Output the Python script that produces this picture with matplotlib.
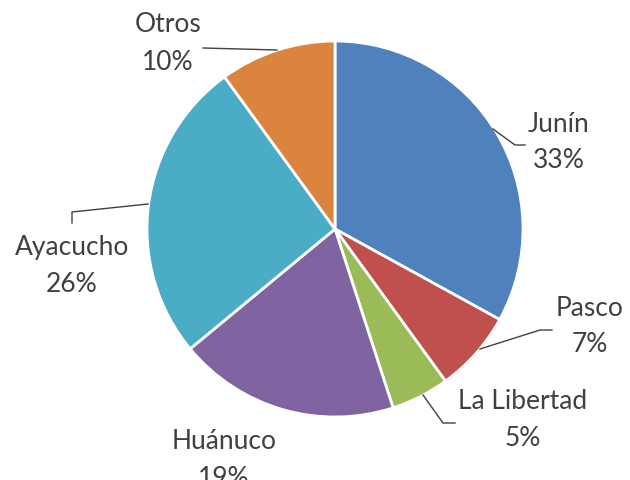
import matplotlib.pyplot as plt

regiones = ['Junín', 'Pasco', 'La Libertad', 'Huánuco', 'Ayacucho', 'Otros']
porcentajes = [33, 7, 5, 19, 26, 10]
colores = ['#4F81BD', '#C0504D', '#9BBB59', '#8064A2', '#4BACC6', '#DB843D']

# label positions: x centre, y of name line, y of percent line (pixels, y down)
pos_texto = {
    'Junín': (559, 124, 161),
    'Pasco': (590, 308, 345),
    'La Libertad': (523, 402, 439),
    'Huánuco': (224, 442, 479),
    'Ayacucho': (72, 247, 285),
    'Otros': (168, 25, 63),
}
guias = {
    'Junín': [(493, 130), (515, 146), (525, 146)],
    'Pasco': [(480, 350), (540, 331), (552, 331)],
    'La Libertad': [(423, 396), (443, 424), (455, 424)],
    'Ayacucho': [(148, 205), (72, 213), (72, 224)],
    'Otros': [(277, 51), (203, 49)],
}

W, H = 630, 481
fig = plt.figure(figsize=(W / 100, H / 100), dpi=100)
ax = fig.add_axes([0, 0, 1, 1])

ax.pie(porcentajes, colors=colores, startangle=90, counterclock=False,
       center=(335, H - 230), radius=188, frame=True,
       wedgeprops=dict(edgecolor='white', linewidth=2))
ax.set_xlim(0, W)
ax.set_ylim(0, H)
ax.set_aspect('equal')
ax.axis('off')

for reg, p in zip(regiones, porcentajes):
    x, y1, y2 = pos_texto[reg]
    for s, y in [(reg, y1), (f'{p}%', y2)]:
        ax.text(x, H - y, s, ha='center', va='center', fontsize=19,
                color='#404040', family=['Lato', 'DejaVu Sans'])
    if reg in guias:
        xs = [a for a, b in guias[reg]]
        ys = [H - b for a, b in guias[reg]]
        ax.plot(xs, ys, color='#404040', lw=1)

fig.savefig('out.png', dpi=100)
